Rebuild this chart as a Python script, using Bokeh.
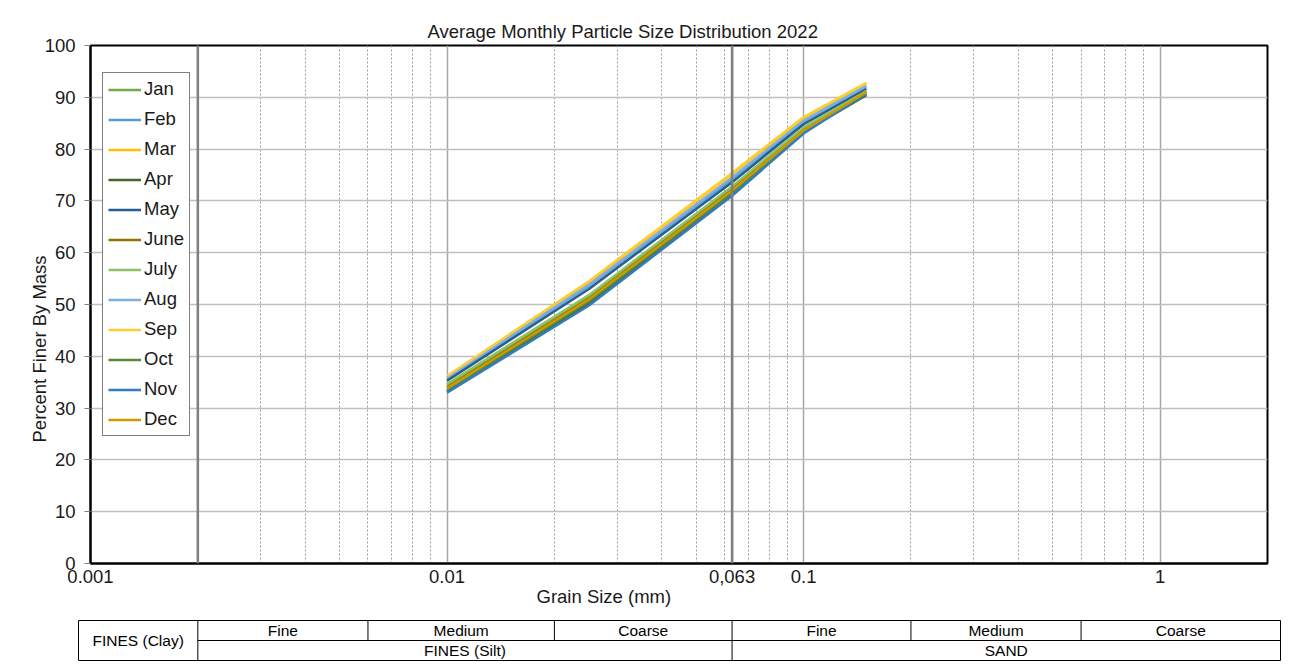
from bokeh.plotting import figure
from bokeh.models import (FixedTicker, Span, Range1d, ColumnDataSource, Title)
from bokeh.embed import file_html
from bokeh.resources import INLINE
from bokeh.core.properties import value
import math

# ---------------- data ----------------
grain_sizes = [0.01, 0.025, 0.063, 0.1, 0.15]

months = ["Jan", "Feb", "Mar", "Apr", "May", "June",
          "July", "Aug", "Sep", "Oct", "Nov", "Dec"]

jan = [34.5, 51.5, 72.5, 84.0, 91.0]
feb = [35.8, 53.6, 74.2, 85.3, 92.0]
mar = [36.0, 54.3, 75.2, 86.0, 92.7]
apr = [33.2, 50.2, 71.3, 83.3, 90.4]
may = [35.3, 53.0, 73.6, 84.8, 91.6]
june = [34.0, 51.2, 72.2, 83.8, 91.2]
july = [34.7, 51.8, 72.8, 84.2, 91.2]
aug = [35.9, 53.8, 74.5, 85.5, 92.2]
sep = [36.2, 54.5, 75.4, 86.2, 92.8]
oct_ = [33.5, 50.6, 71.6, 83.5, 90.6]
nov = [33.0, 49.8, 71.0, 83.0, 90.8]
dec = [33.8, 51.0, 72.0, 83.6, 91.0]

series = [jan, feb, mar, apr, may, june, july, aug, sep, oct_, nov, dec]

colors = ["#70AD47", "#5B9BD5", "#FFC000", "#43682B", "#255E91", "#997300",
          "#8CC168", "#7CAFDD", "#FFCD33", "#5A8A39", "#327DC2", "#CC9A00"]

x_tick_values = [0.001, 0.01, 0.063, 0.1, 1]
x_tick_labels = ["0.001", "0.01", "0,063", "0.1", "1"]
y_ticks = [0, 10, 20, 30, 40, 50, 60, 70, 80, 90, 100]

# classification boundaries (mm)
major_bounds = [0.002, 0.063]           # clay/silt, silt/sand
minor_bounds = [0.006, 0.02, 0.2, 0.6]  # fine/medium/coarse
x_min, x_max = 0.001, 2.0

sub_labels = ["Fine", "Medium", "Coarse", "Fine", "Medium", "Coarse"]
main_labels = ["FINES (Silt)", "SAND"]

FONT = "Liberation Sans"
TXT = "#1a1a1a"
FS = "18.5px"

# ---------------- main chart ----------------
p = figure(width=1290, height=615, x_axis_type="log",
           x_range=Range1d(x_min, x_max), y_range=Range1d(0, 100),
           output_backend="svg", toolbar_location=None,
           min_border_left=90, min_border_right=23,
           min_border_top=45, min_border_bottom=52)

p.title.text = "Average Monthly Particle Size Distribution 2022"
p.title.text_font = FONT
p.title.text_font_size = FS
p.title.text_font_style = "normal"
p.title.text_color = TXT
p.title.align = "left"
p.title.offset = 337
p.title.standoff = 8

minor = [m * 10.0 ** k for k in (-3, -2, -1) for m in range(2, 10)] + [2.0]
p.xaxis.ticker = FixedTicker(ticks=x_tick_values, minor_ticks=minor)
p.xaxis.major_label_overrides = {v: l for v, l in zip(x_tick_values, x_tick_labels)}
p.yaxis.ticker = FixedTicker(ticks=y_ticks)

for ax in (p.xaxis[0], p.yaxis[0]):
    ax.major_label_text_font = FONT
    ax.major_label_text_font_size = FS
    ax.major_label_text_color = TXT
    ax.axis_line_color = "black"
    ax.axis_line_width = 2
    ax.minor_tick_line_color = None
    ax.minor_tick_out = 0

p.xaxis.major_tick_line_color = None
p.xaxis.major_tick_out = 0
p.xaxis.major_tick_in = 0
p.xaxis.major_label_standoff = 6
p.yaxis.major_tick_line_color = "#808080"
p.yaxis.major_tick_out = 6
p.yaxis.major_tick_in = 0
p.yaxis.major_label_standoff = 9

# axis titles (positioned like the reference)
p.add_layout(Title(text="Grain Size (mm)", align="left", offset=446,
                   text_font=FONT, text_font_size=FS, text_font_style="normal",
                   text_color=TXT, standoff=-4), "below")
p.add_layout(Title(text="Percent Finer By Mass", align="left", offset=121,
                   text_font=FONT, text_font_size=FS, text_font_style="normal",
                   text_color=TXT, standoff=-17), "left")

p.outline_line_color = "black"
p.outline_line_width = 2

p.ygrid.grid_line_color = "#bfbfbf"
p.ygrid.grid_line_width = 1.5
p.xgrid.grid_line_color = "#a6a6a6"
p.xgrid.grid_line_width = 1.5
p.xgrid.minor_grid_line_color = "#9a9a9a"
p.xgrid.minor_grid_line_width = 1
p.xgrid.minor_grid_line_dash = "2 2"

for b in major_bounds:
    p.add_layout(Span(location=b, dimension="height", line_color="#7f7f7f",
                      line_width=2.5))

for name, vals, col in zip(months, series, colors):
    src = ColumnDataSource(dict(x=grain_sizes, y=vals))
    p.line("x", "y", source=src, line_color=col, line_width=2.5,
           legend_label=name)

lg = p.legend[0]
lg.location = (12, 127)
lg.border_line_color = "black"
lg.border_line_width = 1.3
lg.background_fill_alpha = 1
lg.padding = 5
lg.spacing = 8
lg.margin = 0
lg.label_text_font = FONT
lg.label_text_font_size = FS
lg.label_text_color = TXT
lg.label_height = 21
lg.glyph_height = 21
lg.glyph_width = 33
lg.label_standoff = 3

# ---------------- classification table ----------------
decade_px = 1177 / (math.log10(x_max) - math.log10(x_min))
t_start = 10 ** (math.log10(x_min) - 12 / decade_px)
t_end = 10 ** (math.log10(x_max) + 13 / decade_px)

t = figure(width=1290, height=49, x_axis_type="log",
           x_range=Range1d(t_start, t_end), y_range=Range1d(0, 2),
           output_backend="svg", toolbar_location=None,
           x_axis_location=None, y_axis_location=None,
           min_border_left=78, min_border_right=10,
           min_border_top=5, min_border_bottom=4)
t.grid.visible = False
t.outline_line_color = "black"
t.outline_line_width = 1

t.segment(x0=major_bounds, y0=[0] * len(major_bounds),
          x1=major_bounds, y1=[2] * len(major_bounds),
          line_color="black", line_width=1)
t.segment(x0=minor_bounds, y0=[1] * len(minor_bounds),
          x1=minor_bounds, y1=[2] * len(minor_bounds),
          line_color="black", line_width=1)
t.segment(x0=[major_bounds[0]], y0=[1], x1=[t_end], y1=[1],
          line_color="black", line_width=1)

TFS = "15.5px"
edges_top = [major_bounds[0], minor_bounds[0], minor_bounds[1], major_bounds[1],
             minor_bounds[2], minor_bounds[3], t_end]
top_x = [math.sqrt(a * b) for a, b in zip(edges_top[:-1], edges_top[1:])]
t.text(x=top_x, y=[1.5] * len(top_x), text=sub_labels,
       text_align="center", text_baseline="middle",
       text_font=value(FONT), text_font_size=TFS, text_color="black")

edges_bot = [major_bounds[0], major_bounds[1], t_end]
bot_x = [math.sqrt(a * b) for a, b in zip(edges_bot[:-1], edges_bot[1:])]
t.text(x=bot_x, y=[0.5] * len(bot_x), text=main_labels,
       text_align="center", text_baseline="middle",
       text_font=value(FONT), text_font_size=TFS, text_color="black")

t.text(x=[math.sqrt(t_start * major_bounds[0])], y=[1.0], text=["FINES (Clay)"],
       text_align="center", text_baseline="middle",
       text_font=value(FONT), text_font_size=TFS, text_color="black")

# two separate roots so the table frame is not aligned to the chart frame
open("out.html", "w").write(file_html([p, t], INLINE))
